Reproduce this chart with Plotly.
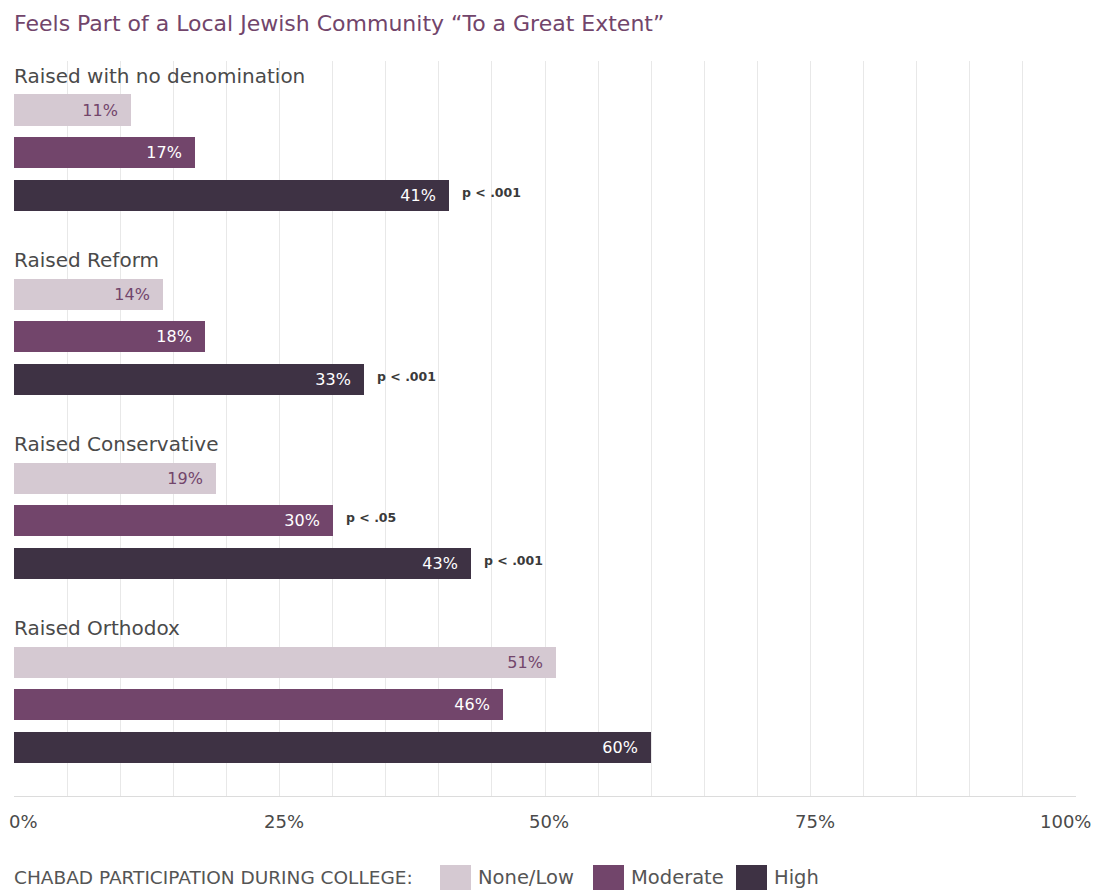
import plotly.graph_objects as go

# ---- data ----
groups = ["Raised with no denomination", "Raised Reform", "Raised Conservative", "Raised Orthodox"]
series_names = ["None/Low", "Moderate", "High"]
none_low = [11, 14, 19, 51]
moderate = [17, 18, 30, 46]
high = [41, 33, 43, 60]
p_none_low = [None, None, None, None]
p_moderate = [None, None, "p < .05", None]
p_high = ["p < .001", "p < .001", "p < .001", None]
tick_vals = [0, 25, 50, 75, 100]
tick_labels = ["0%", "25%", "50%", "75%", "100%"]
grid_step = 5

title = "Feels Part of a Local Jewish Community \u201cTo a Great Extent\u201d"
legend_title = "CHABAD PARTICIPATION DURING COLLEGE:"

# ---- style ----
colors = ["#d5c9d2", "#72456b", "#3e3244"]
text_colors = ["#72456b", "#ffffff", "#ffffff"]
FONT = "DejaVu Sans"
W, H = 1096, 890
ML, MR, MT, MB = 14, 20, 61, 94
PW = W - ML - MR
PH = H - MT - MB

def pxx(x):
    return (x - ML) / PW

def pxy(y):
    return (H - MB - y) / PH

GS = 4.3        # group spacing in slot units
BW = 0.725      # bar thickness
YR = [16.03, -1.145]

values = [none_low, moderate, high]
pvals = [p_none_low, p_moderate, p_high]

fig = go.Figure()
annotations = []
for s, name in enumerate(series_names):
    ys = [g * GS + s for g in range(len(groups))]
    fig.add_trace(go.Bar(
        x=values[s], y=ys, orientation="h", name=name,
        marker=dict(color=colors[s], line=dict(width=0)),
        width=BW,
        text=[f"{v}%\u00a0\u00a0" for v in values[s]],
        textposition="inside", insidetextanchor="end",
        textfont=dict(family=FONT, size=16, color=text_colors[s]),
        constraintext="none",
        hoverinfo="skip", showlegend=False,
    ))
    for g, p in enumerate(pvals[s]):
        if p:
            annotations.append(dict(
                x=values[s][g], y=g * GS + s - 0.07, xref="x", yref="y",
                text=f"<b>{p}</b>", showarrow=False, xanchor="left", yanchor="middle",
                xshift=11, font=dict(family=FONT, size=12.5, color="#3a3a3a"),
            ))

for g, label in enumerate(groups):
    annotations.append(dict(
        x=0, y=g * GS - 0.8, xref="x", yref="y", text=label, showarrow=False,
        xanchor="left", yanchor="middle", xshift=-2,
        font=dict(family=FONT, size=20, color="#4a4a4a"),
    ))

for v, t in zip(tick_vals, tick_labels):
    if v == tick_vals[0]:
        xa, xs = "left", -7
    elif v == tick_vals[-1]:
        xa, xs = "right", 17
    else:
        xa, xs = "center", 4
    annotations.append(dict(
        x=v, y=pxy(822), xref="x", yref="paper", text=t, showarrow=False,
        xanchor=xa, yanchor="middle", xshift=xs,
        font=dict(family=FONT, size=18, color="#4a4a4a"),
    ))

# manual legend
LEG_Y = 877
annotations.append(dict(
    x=pxx(12), y=pxy(LEG_Y), xref="paper", yref="paper", text=legend_title,
    showarrow=False, xanchor="left", yanchor="middle",
    font=dict(family=FONT, size=18.5, color="#555555"),
))
shapes = []
leg_x = [440, 593, 736]
for s, name in enumerate(series_names):
    x0 = leg_x[s]
    shapes.append(dict(type="rect", xref="paper", yref="paper",
                       x0=pxx(x0), x1=pxx(x0 + 31), y0=pxy(865), y1=pxy(896),
                       fillcolor=colors[s], line=dict(width=0), layer="above"))
    annotations.append(dict(
        x=pxx(x0 + 36), y=pxy(LEG_Y), xref="paper", yref="paper", text=name,
        showarrow=False, xanchor="left", yanchor="middle",
        font=dict(family=FONT, size=19.5, color="#555555"),
    ))

fig.update_layout(
    width=W, height=H,
    margin=dict(l=ML, r=MR, t=MT, b=MB, pad=0),
    paper_bgcolor="white", plot_bgcolor="white",
    title=dict(text=title, x=14 / W, xanchor="left", xref="container",
               y=1 - 23 / H, yanchor="middle", yref="container",
               font=dict(family=FONT, size=22, color="#72456b")),
    xaxis=dict(range=[0, 100], dtick=grid_step, tick0=0, showgrid=True,
               gridcolor="#e8e8e8", gridwidth=1, zeroline=False,
               showticklabels=False, ticks="", showline=True,
               linecolor="#dcdcdc", linewidth=1, fixedrange=True),
    yaxis=dict(range=YR, showgrid=False, zeroline=False, showticklabels=False,
               ticks="", showline=False, fixedrange=True),
    bargap=0,
    annotations=annotations,
    shapes=shapes,
    showlegend=False,
    font=dict(family=FONT),
)

fig.write_html("out.html", config={"displayModeBar": False},
               post_script="document.body.style.margin='0';document.body.style.overflow='hidden';")
